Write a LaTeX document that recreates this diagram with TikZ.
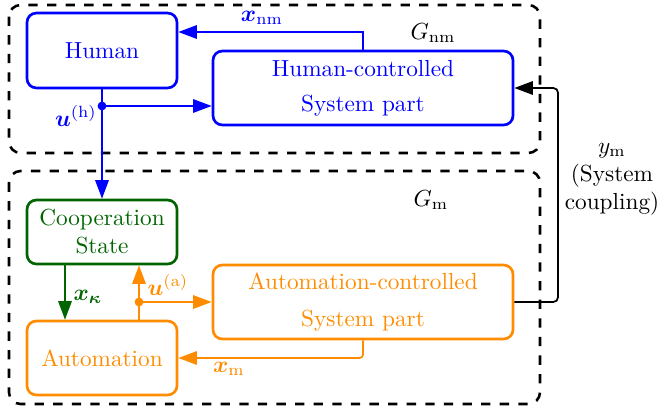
\documentclass[tikz,border=0pt]{standalone}
\usepackage{bm}
\usetikzlibrary{arrows.meta,calc}
\definecolor{hblue}{RGB}{0,0,255}
\definecolor{aorange}{RGB}{255,140,0}
\definecolor{cgreen}{RGB}{0,100,0}
\begin{document}
\begin{tikzpicture}[x=0.43pt,y=-0.43pt,
  block/.style={draw,line width=1.15pt,rounded corners=4pt,align=center,inner sep=0pt},
  conn/.style={line width=0.75pt,-{Triangle[length=8pt,width=5.8pt]}},
  group/.style={draw,line width=1.1pt,dash pattern=on 4pt off 4pt,rounded corners=5pt},
  junction/.style={circle,fill,inner sep=0pt,minimum size=3.8pt}]
\useasboundingbox (0,0) rectangle (660,409);

% subsystem groups
\draw[group] (9,5) rectangle (540,153);
\draw[group] (9,171) rectangle (540,404);
\node (gnm) at (433,33) {$G_{\mathrm{nm}}$};
\node (gm) at (431,200) {$G_{\mathrm{m}}$};

% blocks
\node[block,hblue,minimum width=64.5pt,minimum height=32.2pt] (human) at (102,50.5) {Human};
\node[block,hblue,minimum width=129pt,minimum height=31.8pt] (hcs) at (363,88) {Human-controlled\\[3pt]System part};
\node[block,cgreen,minimum width=64.5pt,minimum height=27.5pt] (coop) at (102,232) {Cooperation\\State};
\node[block,aorange,minimum width=64.5pt,minimum height=31.8pt] (auto) at (102,358) {Automation};
\node[block,aorange,minimum width=129pt,minimum height=31.8pt] (acs) at (363,302) {Automation-controlled\\[4pt]System part};

% human loop
\coordinate (xnm) at (363,32);
\draw[conn,hblue] (hcs.north) -- (xnm) -- (xnm -| human.east);
\node[hblue] (xnmlab) at (262,18) {$\bm{x}_{\mathrm{nm}}$};
\coordinate (uh) at (102,106);
\draw[conn,hblue] (human.south) -- (coop.north);
\draw[conn,hblue] (uh) -- (uh -| hcs.west);
\node[junction,hblue] (uhdot) at (uh) {};
\node[hblue] (uhlab) at (76,116) {$\bm{u}^{(\mathrm{h})}$};

% automation loop
\coordinate (xk) at (65,0);
\draw[conn,cgreen] (coop.south -| xk) -- (auto.north -| xk);
\node[cgreen] (xklab) at (88,297) {$\bm{x}_{\bm{\kappa}}$};
\coordinate (ax) at (139,0);
\coordinate (ua) at (139,302);
\draw[conn,aorange] (auto.north -| ax) -- (coop.south -| ax);
\draw[conn,aorange] (ua) -- (ua -| acs.west);
\node[junction,aorange] (uadot) at (ua) {};
\node[aorange] (ualab) at (168,285) {$\bm{u}^{(\mathrm{a})}$};
\draw[conn,aorange,rounded corners=1.5pt] (acs.south) |- (auto.east);
\node[aorange] (xmlab) at (229,369) {$\bm{x}_{\mathrm{m}}$};

% system coupling
\coordinate (ym) at (558,200);
\draw[conn,black,rounded corners=2pt] (acs.east) -| (ym) |- (hcs.east);
\node[align=center,inner sep=0pt] (ymlab) at (612,179) {$y_{\mathrm{m}}$\\(System\\coupling)};
\end{tikzpicture}
\end{document}
